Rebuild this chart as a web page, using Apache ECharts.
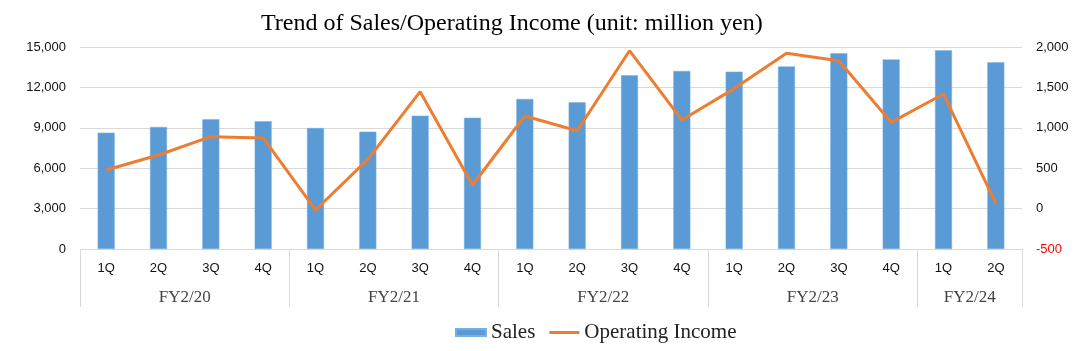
<!DOCTYPE html>
<html>
<head>
<meta charset="utf-8">
<script src="https://cdn.jsdelivr.net/npm/echarts@6/dist/echarts.min.js"></script>
<style>
  html, body { margin: 0; padding: 0; background: #fff; }
  #main { width: 1092px; height: 351px; }
</style>
</head>
<body>
<div id="main"></div>
<script>
// quarters along the x axis
var quarters = ['1Q','2Q','3Q','4Q','1Q','2Q','3Q','4Q','1Q','2Q','3Q','4Q','1Q','2Q','3Q','4Q','1Q','2Q'];
// fiscal year groups and where they start / end (in quarter index)
var fyNames = ['FY2/20','FY2/21','FY2/22','FY2/23','FY2/24'];
var fyEdges = [0, 4, 8, 12, 16, 18];
var fyMids = [2, 6, 10, 14, 17];
// million yen
var sales = [8640, 9060, 9630, 9480, 8980, 8710, 9900, 9750, 11140, 10890, 12900, 13220, 13170, 13560, 14530, 14080, 14750, 13860];
var opIncome = [478, 663, 890, 874, -17, 610, 1447, 292, 1146, 964, 1954, 1097, 1485, 1922, 1831, 1068, 1418, 65];
var leftTicks = [0, 15000, 3000];
var rightTicks = [-500, 2000, 500];

var chart = echarts.init(document.getElementById('main'));

function fmt(v) {
  return v.toString().replace(/\B(?=(\d{3})+(?!\d))/g, ',');
}

var option = {
  backgroundColor: '#fff',
  animation: false,
  title: {
    text: 'Trend of Sales/Operating Income (unit: million yen)',
    left: 256,
    top: 7,
    textStyle: {
      fontFamily: 'Liberation Serif',
      fontWeight: 'normal',
      fontSize: 24,
      color: '#000'
    }
  },
  legend: {
    left: 450,
    top: 317,
    itemWidth: 30,
    itemHeight: 7,
    itemGap: 14,
    textStyle: {
      fontFamily: 'Liberation Serif',
      fontSize: 21,
      color: '#222'
    },
    data: [
      { name: 'Sales', icon: 'rect' },
      { name: 'Operating Income', icon: 'path://M0,0 L30,0 L30,3 L0,3 Z', symbolKeepAspect: true }
    ]
  },
  grid: {
    left: 80,
    right: 70,
    top: 47,
    bottom: 102
  },
  xAxis: [
    {
      type: 'category',
      data: quarters,
      boundaryGap: true,
      axisLine: { onZero: false, lineStyle: { color: '#d9d9d9', width: 1 } },
      axisTick: { show: false },
      axisLabel: {
        margin: 13,
        fontFamily: 'Liberation Sans',
        fontSize: 13,
        color: '#111'
      },
      splitLine: { show: false }
    },
    {
      type: 'value',
      position: 'bottom',
      min: 0,
      max: 18,
      axisLine: { show: false, onZero: false },
      axisTick: {
        show: true,
        inside: false,
        length: 58,
        customValues: fyEdges,
        lineStyle: { color: '#d9d9d9', width: 1 }
      },
      axisLabel: {
        margin: 40,
        customValues: fyMids,
        formatter: function (v) {
          var i = fyMids.indexOf(v);
          return i >= 0 ? fyNames[i] : '';
        },
        fontFamily: 'Liberation Serif',
        fontSize: 17,
        color: '#444'
      },
      splitLine: { show: false }
    }
  ],
  yAxis: [
    {
      type: 'value',
      min: leftTicks[0],
      max: leftTicks[1],
      interval: leftTicks[2],
      axisLine: { show: false },
      axisTick: { show: false },
      axisLabel: {
        margin: 14,
        fontFamily: 'Liberation Sans',
        fontSize: 13,
        color: '#111',
        formatter: fmt
      },
      splitLine: { lineStyle: { color: '#d9d9d9', width: 1 } }
    },
    {
      type: 'value',
      min: rightTicks[0],
      max: rightTicks[1],
      interval: rightTicks[2],
      axisLine: { show: false },
      axisTick: { show: false },
      axisLabel: {
        margin: 14,
        fontFamily: 'Liberation Sans',
        fontSize: 13,
        color: function (v) { return v < 0 ? '#ff0000' : '#111'; },
        formatter: fmt
      },
      splitLine: { show: false }
    }
  ],
  series: [
    {
      name: 'Sales',
      type: 'bar',
      xAxisIndex: 0,
      yAxisIndex: 0,
      barWidth: 17,
      itemStyle: { color: '#5b9bd5', borderColor: '#79aee0', borderWidth: 0.5 },
      data: sales
    },
    {
      name: 'Operating Income',
      type: 'line',
      xAxisIndex: 0,
      yAxisIndex: 1,
      symbol: 'none',
      lineStyle: { color: '#ed7d31', width: 3 },
      itemStyle: { color: '#ed7d31' },
      data: opIncome
    }
  ]
};

chart.setOption(option);
</script>
</body>
</html>
